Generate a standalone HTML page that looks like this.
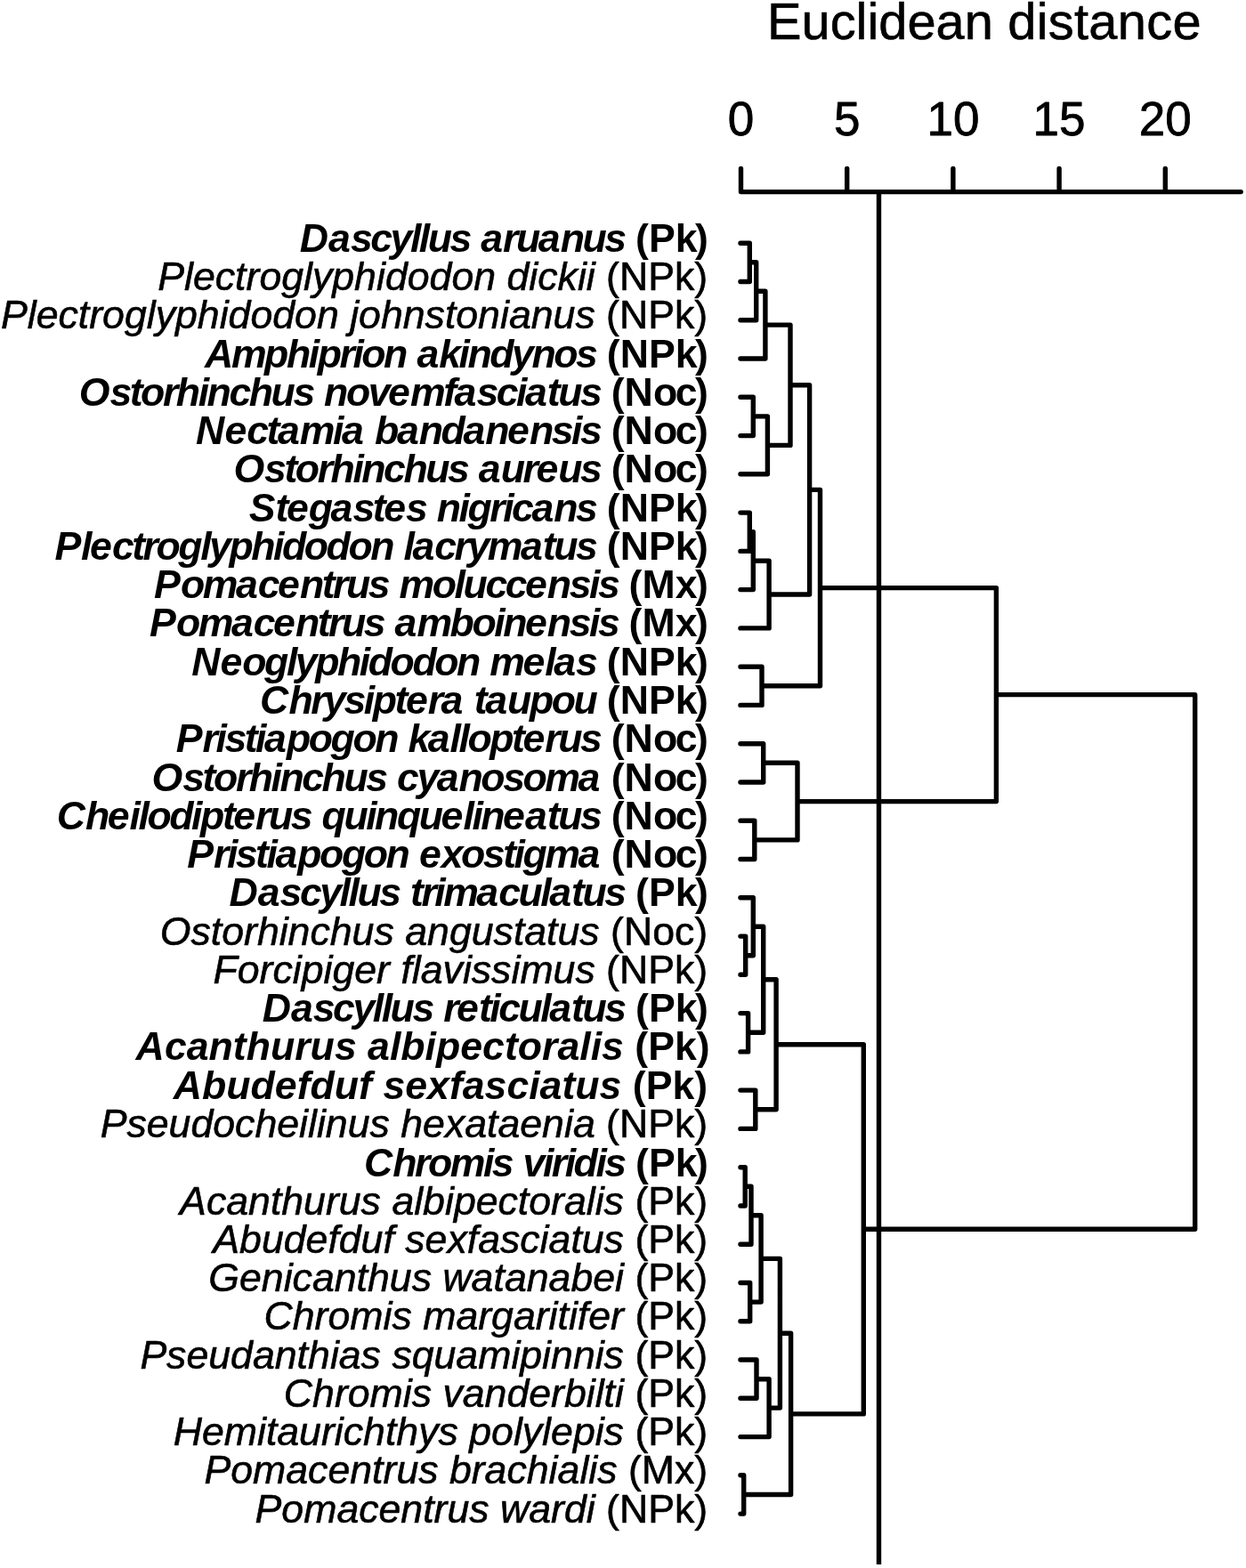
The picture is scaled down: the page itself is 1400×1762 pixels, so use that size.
<!DOCTYPE html>
<html lang="en"><head><meta charset="utf-8"><title>Euclidean distance dendrogram</title>
<style>
html,body{margin:0;padding:0;background:#fff;}
body{width:1400px;height:1762px;overflow:hidden;}
svg{display:block;}
text{font-family:"Liberation Sans",Arial,Helvetica,sans-serif;fill:#000;stroke:#000;stroke-width:0.6px;stroke-linejoin:round;}
.lab{font-size:44.65px;font-kerning:none;}
.b{font-weight:bold;stroke:none;}
.i{font-style:italic;}
.ax{font-size:53px;text-anchor:middle;stroke-width:0.8px;}
.ttl{font-size:57.8px;stroke-width:0.6px;font-kerning:none;}
.d{fill:none;stroke:#000;stroke-width:5.4;stroke-linecap:round;stroke-linejoin:round;}
</style></head><body>
<svg width="1400" height="1762" viewBox="0 0 1400 1762">
<rect width="1400" height="1762" fill="#fff"/>
<text class="ttl" x="862" y="44.4">Euclidean <tspan dx="0.4" letter-spacing="0.28">distance</tspan></text>
<text class="ax" x="832.5" y="152.4">0</text>
<text class="ax" x="951.7" y="152.4">5</text>
<text class="ax" x="1070.9" y="152.4">10</text>
<text class="ax" x="1190.1" y="152.4">15</text>
<text class="ax" x="1309.3" y="152.4">20</text>
<path class="d" d="M832.5 215.6 H1394.2 M832.5 215.6 V189.4 M951.7 215.6 V189.4 M1070.9 215.6 V189.4 M1190.1 215.6 V189.4 M1309.3 215.6 V189.4"/>
<path d="M987.5 215.6 V1758" fill="none" stroke="#000" stroke-width="5.4"/>
<path class="d" d="M832.0 273.2 L842.3 273.2 M832.0 316.5 L842.3 316.5 M842.3 273.2 L842.3 316.5 M842.3 294.8 L849.7 294.8 M832.0 359.7 L849.7 359.7 M849.7 294.8 L849.7 359.7 M849.7 327.3 L859.9 327.3 M832.0 403.0 L859.9 403.0 M859.9 327.3 L859.9 403.0 M832.0 446.3 L846.3 446.3 M832.0 489.6 L846.3 489.6 M846.3 446.3 L846.3 489.6 M846.3 467.9 L862.4 467.9 M832.0 532.8 L862.4 532.8 M862.4 467.9 L862.4 532.8 M859.9 365.1 L888.0 365.1 M862.4 500.4 L888.0 500.4 M888.0 365.1 L888.0 500.4 M832.0 576.1 L842.3 576.1 M832.0 619.4 L842.3 619.4 M842.3 576.1 L842.3 619.4 M842.3 597.7 L846.3 597.7 M832.0 662.6 L846.3 662.6 M846.3 597.7 L846.3 662.6 M846.3 630.2 L864.1 630.2 M832.0 705.9 L864.1 705.9 M864.1 630.2 L864.1 705.9 M888.0 432.8 L909.6 432.8 M864.1 668.0 L909.6 668.0 M909.6 432.8 L909.6 668.0 M832.0 749.2 L856.0 749.2 M832.0 792.4 L856.0 792.4 M856.0 749.2 L856.0 792.4 M909.6 550.4 L921.5 550.4 M856.0 770.8 L921.5 770.8 M921.5 550.4 L921.5 770.8 M832.0 835.7 L857.7 835.7 M832.0 879.0 L857.7 879.0 M857.7 835.7 L857.7 879.0 M832.0 922.2 L847.8 922.2 M832.0 965.5 L847.8 965.5 M847.8 922.2 L847.8 965.5 M857.7 857.3 L896.0 857.3 M847.8 943.9 L896.0 943.9 M896.0 857.3 L896.0 943.9 M921.5 660.6 L1119.4 660.6 M896.0 900.6 L1119.4 900.6 M1119.4 660.6 L1119.4 900.6 M832.0 1052.1 L837.7 1052.1 M832.0 1095.3 L837.7 1095.3 M837.7 1052.1 L837.7 1095.3 M832.0 1008.8 L846.3 1008.8 M837.7 1073.7 L846.3 1073.7 M846.3 1008.8 L846.3 1073.7 M832.0 1138.6 L840.6 1138.6 M832.0 1181.9 L840.6 1181.9 M840.6 1138.6 L840.6 1181.9 M846.3 1041.2 L857.7 1041.2 M840.6 1160.2 L857.7 1160.2 M857.7 1041.2 L857.7 1160.2 M832.0 1225.1 L848.8 1225.1 M832.0 1268.4 L848.8 1268.4 M848.8 1225.1 L848.8 1268.4 M857.7 1100.7 L872.1 1100.7 M848.8 1246.8 L872.1 1246.8 M872.1 1100.7 L872.1 1246.8 M832.0 1311.7 L837.2 1311.7 M832.0 1355.0 L837.2 1355.0 M837.2 1311.7 L837.2 1355.0 M837.2 1333.3 L844.0 1333.3 M832.0 1398.2 L844.0 1398.2 M844.0 1333.3 L844.0 1398.2 M832.0 1441.5 L842.7 1441.5 M832.0 1484.8 L842.7 1484.8 M842.7 1441.5 L842.7 1484.8 M844.0 1365.8 L855.1 1365.8 M842.7 1463.1 L855.1 1463.1 M855.1 1365.8 L855.1 1463.1 M832.0 1528.0 L850.0 1528.0 M832.0 1571.3 L850.0 1571.3 M850.0 1528.0 L850.0 1571.3 M850.0 1549.7 L864.1 1549.7 M832.0 1614.6 L864.1 1614.6 M864.1 1549.7 L864.1 1614.6 M855.1 1414.4 L876.4 1414.4 M864.1 1582.1 L876.4 1582.1 M876.4 1414.4 L876.4 1582.1 M832.0 1657.8 L835.7 1657.8 M832.0 1701.1 L835.7 1701.1 M835.7 1657.8 L835.7 1701.1 M876.4 1498.3 L888.6 1498.3 M835.7 1679.5 L888.6 1679.5 M888.6 1498.3 L888.6 1679.5 M872.1 1173.8 L970.3 1173.8 M888.6 1588.9 L970.3 1588.9 M970.3 1173.8 L970.3 1588.9 M1119.4 780.6 L1342.7 780.6 M970.3 1381.3 L1342.7 1381.3 M1342.7 780.6 L1342.7 1381.3"/>
<text class="lab b" y="282.7"><tspan class="i" x="336.8 369.1 393.9 416.2 438.6 460.9 470.8 480.7 505.6 527.9 540.3 565.1 580 604.8 629.7 654.5 679.3">Dascyllus aruanus</tspan> <tspan x="714.1 728.9 758.7 781">(Pk)</tspan></text>
<text class="lab" y="326"><tspan class="i" x="177.3 207.1 217 241.8 264.1 276.5 291.4 316.2 341.1 351 373.3 398.1 423 432.9 457.7 482.6 507.4 532.2 557.1 569.5 594.3 604.2 626.5 648.9 658.8">Plectroglyphidodon dickii</tspan> <tspan x="681.1 696 728.2 758 780.3">(NPk)</tspan></text>
<text class="lab" y="369.2"><tspan class="i" x="1 30.7 40.7 65.5 87.8 100.2 115.1 139.9 164.8 174.7 197 221.8 246.7 256.6 281.4 306.3 331.1 355.9 380.7 393.2 403.1 427.9 452.7 477.6 499.9 512.3 537.1 562 571.9 596.7 621.5 646.4">Plectroglyphidodon johnstonianus</tspan> <tspan x="681.1 696 728.2 758 780.3">(NPk)</tspan></text>
<text class="lab b" y="412.5"><tspan class="i" x="230.1 259.9 297.1 321.9 346.7 356.7 381.5 396.4 406.3 431.1 455.9 468.4 493.2 515.5 525.4 550.3 575.1 597.4 622.2 647.1">Amphiprion akindynos</tspan> <tspan x="681.8 696.7 728.9 758.7 781">(NPk)</tspan></text>
<text class="lab b" y="455.8"><tspan class="i" x="88.7 123.4 145.7 158.1 183 197.8 222.7 232.6 257.4 279.7 304.6 329.4 351.7 364.1 389 413.8 436.1 461 498.2 510.6 535.4 557.7 580 590 614.8 627.2 652">Ostorhinchus novemfasciatus</tspan> <tspan x="686.8 701.6 733.9 758.7 781">(Noc)</tspan></text>
<text class="lab b" y="499.1"><tspan class="i" x="220.1 252.4 277.2 299.5 311.9 336.8 374 383.9 408.7 421.1 446 470.8 495.6 520.5 545.3 570.1 595 619.8 642.1 652">Nectamia bandanensis</tspan> <tspan x="686.8 701.6 733.9 758.7 781">(Noc)</tspan></text>
<text class="lab b" y="542.3"><tspan class="i" x="262.4 297.1 319.4 331.8 356.7 371.5 396.4 406.3 431.1 453.4 478.3 503.1 525.4 537.8 562.7 587.5 602.4 627.2 652">Ostorhinchus aureus</tspan> <tspan x="686.8 701.6 733.9 758.7 781">(Noc)</tspan></text>
<text class="lab b" y="585.6"><tspan class="i" x="279.7 309.5 321.9 346.8 371.6 396.4 418.8 431.2 456 478.3 490.7 515.6 525.5 550.3 565.2 575.1 597.4 622.2 647.1">Stegastes nigricans</tspan> <tspan x="681.8 696.7 728.9 758.7 781">(NPk)</tspan></text>
<text class="lab b" y="628.9"><tspan class="i" x="61.4 91.1 101.1 125.9 148.2 160.6 175.5 200.3 225.2 235.1 257.4 282.2 307.1 317 341.8 366.6 391.5 416.3 441.1 453.5 463.5 488.3 510.6 525.5 547.8 585 609.8 622.2 647.1">Plectroglyphidodon lacrymatus</tspan> <tspan x="681.8 696.7 728.9 758.7 781">(NPk)</tspan></text>
<text class="lab b" y="672.1"><tspan class="i" x="173.1 202.9 227.7 264.9 289.8 312.1 336.9 361.7 374.1 389 413.8 436.2 448.6 485.8 510.6 520.5 545.4 567.7 590 614.8 639.7 662 671.9">Pomacentrus moluccensis</tspan> <tspan x="706.6 721.5 758.7 781">(Mx)</tspan></text>
<text class="lab b" y="715.4"><tspan class="i" x="168.1 197.9 222.7 259.9 284.7 307.1 331.9 356.7 369.1 384 408.8 431.2 443.6 468.4 505.6 530.4 555.3 565.2 590 614.8 639.7 662 671.9">Pomacentrus amboinensis</tspan> <tspan x="706.6 721.5 758.7 781">(Mx)</tspan></text>
<text class="lab b" y="758.7"><tspan class="i" x="215.2 247.4 272.2 297.1 321.9 331.8 354.2 379 403.8 413.7 438.6 463.4 488.2 513.1 537.9 550.3 587.5 612.3 622.2 647.1">Neoglyphidodon melas</tspan> <tspan x="681.8 696.7 728.9 758.7 781">(NPk)</tspan></text>
<text class="lab b" y="801.9"><tspan class="i" x="292.1 324.4 349.2 364.1 386.4 408.7 418.7 443.5 455.9 480.7 495.6 520.4 532.8 545.2 570.1 594.9 619.7 644.6">Chrysiptera taupou</tspan> <tspan x="681.8 696.7 728.9 758.7 781">(NPk)</tspan></text>
<text class="lab b" y="845.2"><tspan class="i" x="197.8 227.6 242.5 252.4 274.7 287.1 297 321.9 346.7 371.5 396.4 421.2 446 458.4 480.8 505.6 515.5 525.4 550.3 575.1 587.5 612.3 627.2 652">Pristiapogon kallopterus</tspan> <tspan x="686.8 701.6 733.9 758.7 781">(Noc)</tspan></text>
<text class="lab b" y="888.5"><tspan class="i" x="170.6 205.3 227.6 240 264.9 279.7 304.6 314.5 339.3 361.6 386.5 411.3 433.6 446 468.4 490.7 515.5 540.3 565.2 587.5 612.3 649.5">Ostorhinchus cyanosoma</tspan> <tspan x="686.8 701.6 733.9 758.7 781">(Noc)</tspan></text>
<text class="lab b" y="931.8"><tspan class="i" x="63.7 96 120.8 145.6 155.5 165.5 190.3 215.1 225 249.9 262.3 287.1 302 326.8 349.1 361.5 386.4 411.2 421.1 446 470.8 495.6 520.5 530.4 540.3 565.1 590 614.8 627.2 652">Cheilodipterus quinquelineatus</tspan> <tspan x="686.8 701.6 733.9 758.7 781">(Noc)</tspan></text>
<text class="lab b" y="975"><tspan class="i" x="210.2 240 254.9 264.8 287.1 299.5 309.5 334.3 359.1 384 408.8 433.6 458.5 470.9 495.7 518 542.8 565.2 577.6 587.5 612.3 649.5">Pristiapogon exostigma</tspan> <tspan x="686.8 701.6 733.9 758.7 781">(Noc)</tspan></text>
<text class="lab b" y="1018.3"><tspan class="i" x="257.5 289.8 314.6 336.9 359.2 381.6 391.5 401.4 426.2 448.6 461 473.4 488.2 498.2 535.3 560.2 582.5 607.3 617.3 642.1 654.5 679.3">Dascyllus trimaculatus</tspan> <tspan x="714.1 728.9 758.7 781">(Pk)</tspan></text>
<text class="lab" y="1061.6"><tspan class="i" x="179.7 214.5 236.8 249.2 274 288.9 313.7 323.6 348.5 370.8 395.6 420.5 442.8 455.2 480 504.9 529.7 554.5 576.9 589.3 614.1 626.5 651.3">Ostorhinchus angustatus</tspan> <tspan x="686.1 700.9 733.2 758 780.3">(Noc)</tspan></text>
<text class="lab" y="1104.8"><tspan class="i" x="239.5 266.7 291.6 306.4 328.8 338.7 363.5 373.4 398.3 423.1 438 450.4 462.8 472.7 497.5 519.9 529.8 552.1 574.4 584.4 621.5 646.4">Forcipiger flavissimus</tspan> <tspan x="681.1 696 728.2 758 780.3">(NPk)</tspan></text>
<text class="lab b" y="1148.1"><tspan class="i" x="294.7 326.9 351.8 374.1 396.4 418.8 428.7 438.6 463.4 485.7 498.2 513 537.9 550.3 560.2 582.5 607.3 617.3 642.1 654.5 679.3">Dascyllus reticulatus</tspan> <tspan x="714.1 728.9 758.7 781">(Pk)</tspan></text>
<text class="lab b" y="1191.4"><tspan class="i" x="152.6 184.9 209.7 234.5 261.8 276.7 303.9 331.2 348.6 375.9 400.7 413.1 437.9 450.3 477.6 490 517.3 542.1 567 581.8 609.1 626.5 651.3 663.7 676.1">Acanthurus albipectoralis</tspan> <tspan x="713.3 728.2 758 782.8">(Pk)</tspan></text>
<text class="lab b" y="1234.6"><tspan class="i" x="194.8 227 254.3 281.6 308.8 333.7 348.5 375.8 403.1 418 430.4 455.2 480 504.9 519.7 544.6 569.4 594.2 606.6 631.5 646.3 673.6">Abudefduf sexfasciatus</tspan> <tspan x="710.8 725.7 755.5 780.3">(Pk)</tspan></text>
<text class="lab" y="1277.9"><tspan class="i" x="112.7 142.4 164.8 189.6 214.4 239.3 264.1 286.4 311.2 336.1 346 355.9 365.8 390.7 415.5 437.8 450.2 475.1 499.9 522.2 547.1 559.5 584.3 609.1 634 643.9">Pseudocheilinus hexataenia</tspan> <tspan x="681.1 696 728.2 758 780.3">(NPk)</tspan></text>
<text class="lab b" y="1322.3"><tspan class="i" x="408.9 441.2 466 480.9 505.7 542.9 552.8 575.1 587.5 609.9 619.8 634.7 644.6 669.4 679.3">Chromis viridis</tspan> <tspan x="714.1 728.9 758.7 781">(Pk)</tspan></text>
<text class="lab" y="1364.5"><tspan class="i" x="202.1 231.9 254.2 279 303.9 316.3 341.1 365.9 380.8 405.6 427.9 440.4 465.2 475.1 499.9 509.9 534.7 559.5 581.8 594.3 619.1 634 658.8 668.7 678.6">Acanthurus albipectoralis</tspan> <tspan x="713.4 728.2 758 780.3">(Pk)</tspan></text>
<text class="lab" y="1407.7"><tspan class="i" x="239.3 269.1 293.9 318.7 343.6 368.4 380.8 405.6 430.5 442.9 455.3 477.6 502.4 524.7 537.2 562 584.3 606.6 616.6 641.4 653.8 678.6">Abudefduf sexfasciatus</tspan> <tspan x="713.4 728.2 758 780.3">(Pk)</tspan></text>
<text class="lab" y="1451"><tspan class="i" x="234.3 269 293.8 318.7 328.6 350.9 375.8 400.6 413 437.8 462.7 485 497.4 529.6 554.5 566.9 591.7 616.5 641.4 666.2 691">Genicanthus watanabei</tspan> <tspan x="713.4 728.2 758 780.3">(Pk)</tspan></text>
<text class="lab" y="1494.3"><tspan class="i" x="296.6 328.8 353.6 368.5 393.3 430.5 440.4 462.8 475.2 512.4 537.2 552.1 576.9 601.7 616.6 626.5 638.9 648.8 661.3 686.1">Chromis margaritifer</tspan> <tspan x="713.4 728.2 758 780.3">(Pk)</tspan></text>
<text class="lab" y="1537.5"><tspan class="i" x="157.4 187.1 209.5 234.3 259.1 284 308.8 333.6 346 370.9 380.8 405.6 427.9 440.4 462.7 487.5 512.3 537.2 574.4 584.3 609.1 619 643.9 668.7 678.6">Pseudanthias squamipinnis</tspan> <tspan x="713.4 728.2 758 780.3">(Pk)</tspan></text>
<text class="lab" y="1580.8"><tspan class="i" x="318.8 351.1 375.9 390.8 415.6 452.8 462.7 485 497.4 519.8 544.6 569.4 594.3 619.1 634 658.8 668.7 678.6 691">Chromis vanderbilti</tspan> <tspan x="713.4 728.2 758 780.3">(Pk)</tspan></text>
<text class="lab" y="1624.1"><tspan class="i" x="194.7 227 251.8 289 298.9 311.3 336.1 361 375.8 385.8 408.1 432.9 445.3 470.2 492.5 514.8 527.2 552 576.9 586.8 609.1 619 643.9 668.7 678.6">Hemitaurichthys polylepis</tspan> <tspan x="713.4 728.2 758 780.3">(Pk)</tspan></text>
<text class="lab" y="1667.3"><tspan class="i" x="229.5 259.2 284.1 321.3 346.1 368.4 393.3 418.1 430.5 445.4 470.2 492.5 504.9 529.8 544.6 569.5 591.8 616.6 626.5 651.4 661.3 671.2">Pomacentrus brachialis</tspan> <tspan x="705.9 720.8 758 780.3">(Mx)</tspan></text>
<text class="lab" y="1710.6"><tspan class="i" x="286.5 316.3 341.2 378.4 403.2 425.5 450.3 475.2 487.6 502.4 527.3 549.6 562 594.3 619.1 634 658.8">Pomacentrus wardi</tspan> <tspan x="681.1 696 728.2 758 780.3">(NPk)</tspan></text>
</svg>
</body></html>
